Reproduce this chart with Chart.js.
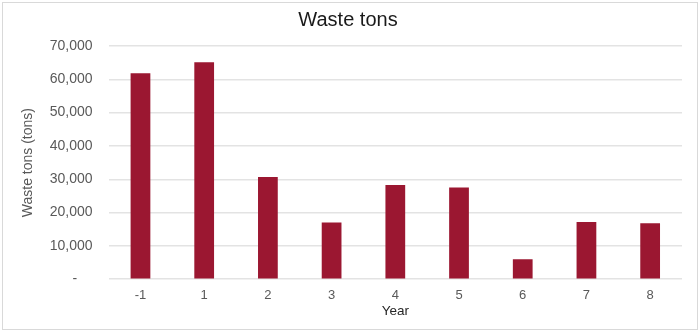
<!DOCTYPE html>
<html>
<head>
<meta charset="utf-8">
<script src="https://cdn.jsdelivr.net/npm/chart.js@4/dist/chart.umd.min.js"></script>
<style>
  body { margin: 0; background: #fff; }
  #wrap { position: relative; width: 700px; height: 336px; }
  #frame {
    position: absolute; left: 2px; top: 2px; width: 694px; height: 326px;
    border: 1px solid #d9d9d9; pointer-events: none;
  }
</style>
</head>
<body>
<div id="wrap">
  <canvas id="my-chart" width="700" height="336"></canvas>
  <div id="frame"></div>
</div>
<script>
const years = ["-1", "1", "2", "3", "4", "5", "6", "7", "8"];
const wasteTons = [61800, 65100, 30700, 17000, 28300, 27500, 6000, 17200, 16800];
const yTicks = [0, 10000, 20000, 30000, 40000, 50000, 60000, 70000];

const font = "'Liberation Sans', Arial, sans-serif";

const ctx = document.getElementById("my-chart").getContext("2d");

const myChart = new Chart(ctx, {
  type: "bar",
  data: {
    labels: years,
    datasets: [
      {
        label: "Waste tons",
        backgroundColor: "#9b1731",
        data: wasteTons,
        barPercentage: 0.31,
        categoryPercentage: 1
      }
    ]
  },
  options: {
    responsive: false,
    animation: false,
    layout: { padding: { left: 14, right: 18, top: 0, bottom: 17 } },
    plugins: {
      legend: { display: false },
      tooltip: { enabled: false },
      title: {
        display: true,
        text: "Waste tons",
        color: "#1a1a1a",
        font: { family: font, size: 20, weight: "normal" },
        padding: { top: 8, bottom: 14 }
      }
    },
    scales: {
      x: {
        grid: { display: false, drawTicks: false },
        border: { display: false },
        ticks: { color: "#595959", font: { family: font, size: 13 }, padding: 8 },
        title: {
          display: true,
          text: "Year",
          color: "#262626",
          font: { family: font, size: 13.5 },
          padding: { top: -8, bottom: 0 }
        }
      },
      y: {
        min: 0,
        max: 70000,
        afterBuildTicks: axis => {
          axis.ticks = yTicks.map(v => ({ value: v }));
        },
        grid: { color: "#e3e3e3", lineWidth: 1.5, drawTicks: false },
        border: { display: false },
        ticks: {
          color: "#595959",
          font: { family: font, size: 14 },
          padding: 16,
          callback: v => (v === 0 ? "-    " : v.toLocaleString("en-US"))
        },
        title: {
          display: true,
          text: "Waste tons (tons)",
          color: "#595959",
          font: { family: font, size: 14 },
          padding: { top: 6, bottom: -3 }
        }
      }
    }
  }
});
</script>
</body>
</html>
